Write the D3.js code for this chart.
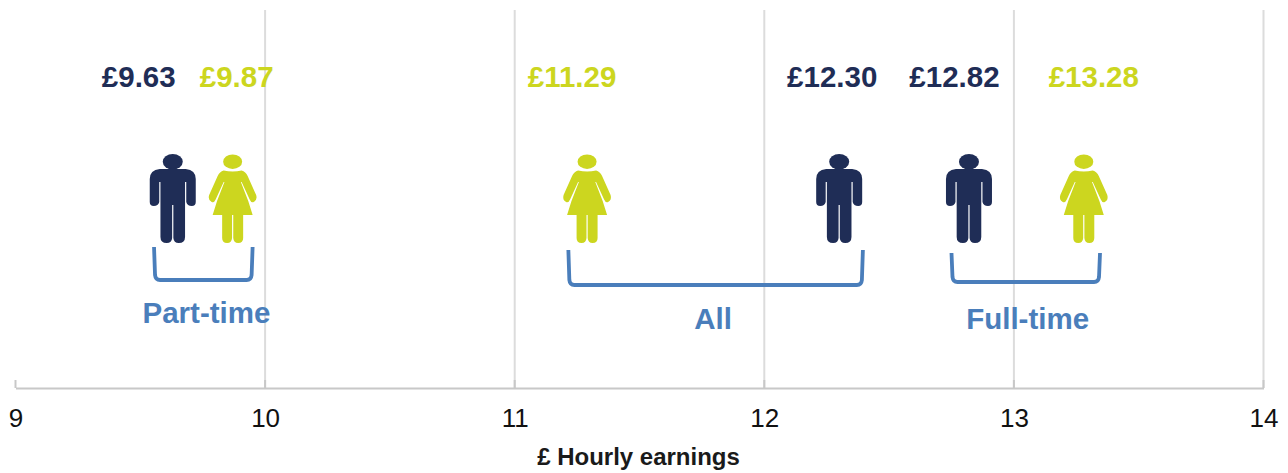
<!DOCTYPE html>
<html><head><meta charset="utf-8">
<script src="https://cdn.jsdelivr.net/npm/d3@7/dist/d3.min.js"></script>
<style>html,body{margin:0;background:#fff}svg{display:block}text{font-family:"Liberation Sans",Arial,sans-serif}</style>
</head><body><svg id="c" width="1288" height="473"></svg>
<script>
const tickValues=[9,10,11,12,13,14];
const labels=["£9.63","£9.87","£11.29","£12.30","£12.82","£13.28"];
const earnings=[9.63,9.87,11.29,12.30,12.82,13.28];
const genders=["m","f","f","m","m","f"];
const labelShift=[-34,4,-15,-7,-14.5,10];
const groupNames=["Part-time","All","Full-time"];
const groupStart=[9.555,11.215,12.75];
const groupEnd=[9.95,12.395,13.345];
const groupLabelAt=[9.765,11.795,13.055];
const axisTitle="£ Hourly earnings";
const navy="#1f2d56",lime="#ccd61f",blue="#4a7ebb",grid="#dcdcdc";

const svg=d3.select("#c");
const x=d3.scaleLinear().domain([9,14]).range([15.5,1263.5]);
const baseY=388;

svg.append("g").selectAll("line").data(tickValues.slice(1)).join("line")
 .attr("x1",d=>x(d)).attr("x2",d=>x(d)).attr("y1",10).attr("y2",baseY)
 .attr("stroke",grid).attr("stroke-width",2);
const ax=svg.append("g").attr("transform",`translate(0,${baseY})`)
 .call(d3.axisBottom(x).tickValues(tickValues).tickSize(0).tickPadding(21).tickFormat(d3.format("d")));
ax.select(".domain").attr("stroke","#c8c8c8").attr("stroke-width",2);
ax.selectAll("text").attr("font-size",26).attr("fill","#111").attr("font-family","Liberation Sans");
svg.append("g").selectAll("line").data(tickValues).join("line")
 .attr("x1",d=>x(d)).attr("x2",d=>x(d)).attr("y1",380).attr("y2",baseY)
 .attr("stroke","#c8c8c8").attr("stroke-width",2);

svg.append("text").attr("x",638.5).attr("y",465).attr("text-anchor","middle")
 .attr("font-size",24).attr("font-weight","bold").attr("fill","#1a1a1a").text(axisTitle);

const manBody="M-23 11Q-23 2-13 1H13Q23 2 23 11V34Q23 38 19 38Q14.5 38 13.5 34V14H12.3V69Q12.3 75 6 75Q1 75 0.6 70V37H-0.6V70Q-1 75-6 75Q-12.3 75-12.3 69V14H-13.5V34Q-14.5 38-19 38Q-23 38-23 34Z";
const womanBody="M-9 2.5Q0 4.5 9 2.5Q13 3.5 15 8L23.5 27Q25 32 21 34Q18.5 35 17 31.5L9 14H8.2L15.6 33L20 47H10.5V70Q10.5 75 5.5 75Q1 75 0.6 70V47H-0.6V70Q-1 75-5.5 75Q-10.5 75-10.5 70V47H-20L-15.6 33L-8.2 14H-9L-17 31.5Q-18.5 35-21 34Q-25 32-23.5 27L-15 8Q-13 3.5-9 2.5Z";

const fig=svg.append("g").selectAll("g").data(earnings).join("g")
 .attr("transform",d=>`translate(${x(d)},168)`);
fig.each(function(d,i){
  const g=d3.select(this),m=genders[i]==="m",c=m?navy:lime;
  g.append("ellipse").attr("cx",0).attr("cy",-6.3).attr("rx",m?10:9.5).attr("ry",m?7.7:7.3).attr("fill",c);
  g.append("path").attr("d",m?manBody:womanBody).attr("fill",c);
});

svg.append("g").selectAll("text").data(earnings).join("text")
 .attr("x",(d,i)=>x(d)+labelShift[i]).attr("y",87).attr("text-anchor","middle")
 .attr("font-size",29.5).attr("font-weight","bold")
 .attr("fill",(d,i)=>genders[i]==="m"?navy:lime).text((d,i)=>labels[i]);

const br=[[247,280],[250,285],[253,282]];
svg.append("g").selectAll("path").data(groupNames).join("path")
 .attr("fill","none").attr("stroke",blue).attr("stroke-width",3.8)
 .attr("d",(d,i)=>{const a=x(groupStart[i]),b=x(groupEnd[i]),t=br[i][0],y=br[i][1];
   return `M${a} ${t}L${a+1} ${y-5}Q${a+1.5} ${y} ${a+6} ${y}L${b-6} ${y}Q${b-1.5} ${y} ${b-1} ${y-5}L${b} ${t}`;});
const ly=[323,329,329];
svg.append("g").selectAll("text").data(groupNames).join("text")
 .attr("x",(d,i)=>x(groupLabelAt[i])).attr("y",(d,i)=>ly[i]).attr("text-anchor","middle")
 .attr("font-size",29.5).attr("font-weight","bold").attr("fill",blue).text(d=>d);
</script></body></html>
